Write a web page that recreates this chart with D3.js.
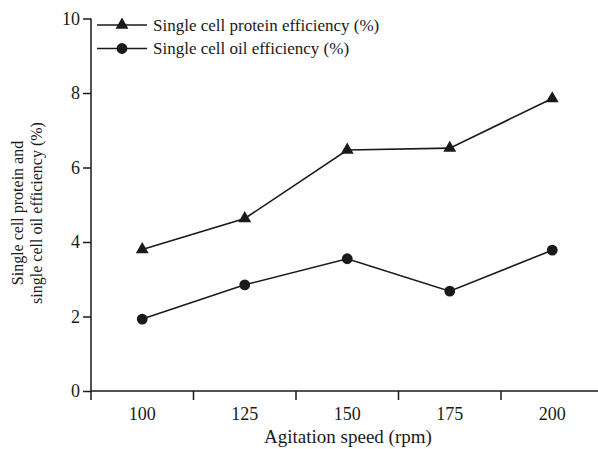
<!DOCTYPE html>
<html>
<head>
<meta charset="utf-8">
<script src="https://cdn.jsdelivr.net/npm/d3@7"></script>
<style>
  body { margin: 0; background: #fff; }
  svg text { font-family: "Times New Roman", Times, "Liberation Serif", "DejaVu Serif", serif; fill: #1a1a1a; }
</style>
</head>
<body>
<svg id="chart" width="598" height="449"></svg>
<script>
// values
var speeds = ["100", "125", "150", "175", "200"];
var protein = [3.8, 4.63, 6.47, 6.52, 7.85];
var oil = [1.93, 2.85, 3.55, 2.68, 3.78];
var yTicks = [0, 2, 4, 6, 8, 10];
var seriesNames = ["Single cell protein efficiency (%)", "Single cell oil efficiency (%)"];

var svg = d3.select("#chart"),
    ink = "#1a1a1a",
    margins = {"left": 91, "top": 18.5, "bottom": 58};

var x = d3.scaleBand().domain(speeds).range([margins.left, 603.5]),
    y = d3.scaleLinear().domain([0, 10]).range([449 - margins.bottom, margins.top]);

// x axis: labels centred in bands, ticks on band edges
var xg = svg.append("g").attr("transform", "translate(0," + y(0) + ")");
xg.append("line").attr("x1", margins.left).attr("x2", 598)
    .attr("stroke", ink).attr("stroke-width", 1.5);
xg.selectAll(".edge").data(speeds).enter().append("line").classed("edge", true)
    .attr("x1", d => x(d)).attr("x2", d => x(d))
    .attr("y1", 0).attr("y2", 9)
    .attr("stroke", ink).attr("stroke-width", 1.5);
xg.selectAll(".lab").data(speeds).enter().append("text").classed("lab", true)
    .attr("x", d => x(d) + x.bandwidth() / 2).attr("y", 29)
    .attr("text-anchor", "middle").style("font-size", "18px")
    .text(d => d);

// y axis
var yAxis = d3.axisLeft(y).tickValues(yTicks).tickSize(8).tickPadding(3);
var yg = svg.append("g").attr("transform", "translate(" + margins.left + ",0)").call(yAxis);
yg.attr("font-family", null);
yg.select(".domain").attr("stroke", ink).attr("stroke-width", 1.5)
    .attr("d", "M0," + y(10) + "V" + y(0));
yg.selectAll(".tick line").attr("stroke", ink).attr("stroke-width", 1.5);
yg.selectAll(".tick text").style("font-size", "18px").attr("fill", ink);

// axis titles
svg.append("text").attr("x", 348).attr("y", 443).attr("text-anchor", "middle")
    .style("font-size", "19px").text("Agitation speed (rpm)");
var yt = svg.append("text").attr("transform", "translate(0,213) rotate(-90)")
    .attr("text-anchor", "middle").style("font-size", "16px");
yt.append("tspan").attr("x", 0).attr("y", 23).text("Single cell protein and");
yt.append("tspan").attr("x", 0).attr("y", 42).text("single cell oil efficiency (%)");

var line = d3.line().x((d, i) => x(speeds[i]) + x.bandwidth() / 2).y(d => y(d));
var tri = d3.symbol().type(d3.symbolTriangle).size(72),
    dot = d3.symbol().type(d3.symbolCircle).size(92);

[[protein, tri], [oil, dot]].forEach(function(s) {
    svg.append("path").datum(s[0]).attr("d", line)
        .attr("fill", "none").attr("stroke", ink).attr("stroke-width", 1.6);
    svg.selectAll(null).data(s[0]).enter().append("path")
        .attr("transform", (d, i) => "translate(" + (x(speeds[i]) + x.bandwidth() / 2) + "," + y(d) + ")")
        .attr("d", s[1]).attr("fill", ink);
});

// legend
var legend = svg.selectAll(".legend").data(seriesNames).enter().append("g").classed("legend", true)
    .attr("transform", (d, i) => "translate(97," + (25 + i * 23.5) + ")");
legend.append("line").attr("x1", 0).attr("x2", 50).attr("stroke", ink).attr("stroke-width", 1.6);
legend.append("path").attr("transform", "translate(25,0)").attr("d", (d, i) => i === 0 ? tri() : dot())
    .attr("fill", ink);
legend.append("text").attr("x", 56).attr("y", 5.5).style("font-size", "17px").text(d => d);
</script>
</body>
</html>
